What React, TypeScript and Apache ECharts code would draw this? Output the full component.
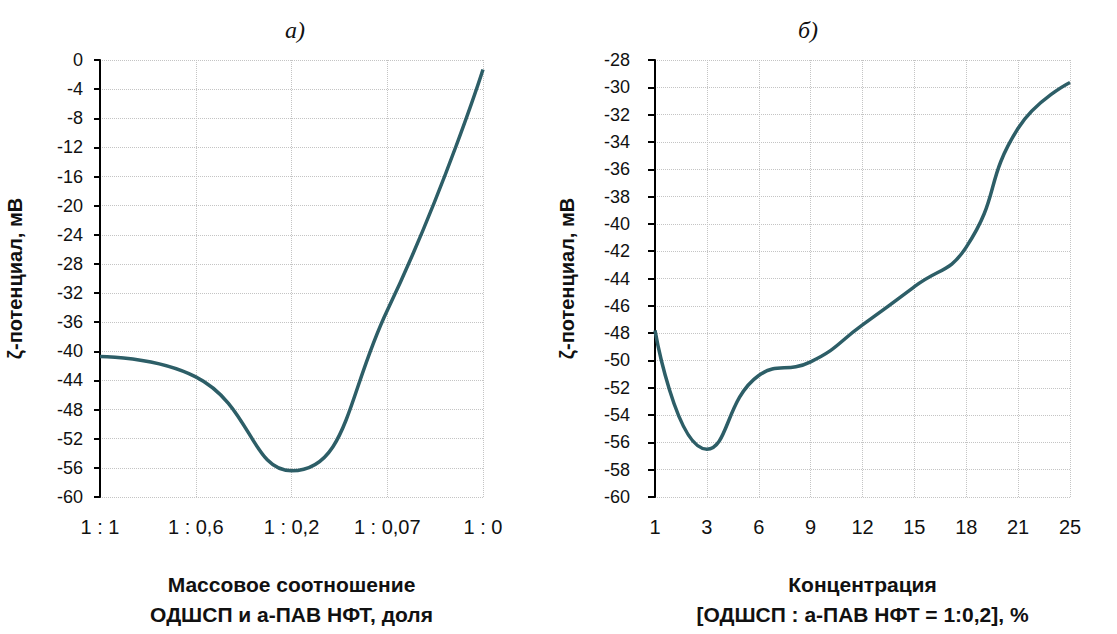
import React, { useEffect, useRef } from "react";
import * as echarts from "echarts";

const ratioCategories = ["1 : 1", "1 : 0,6", "1 : 0,2", "1 : 0,07", "1 : 0"];
const ratioZeta = [-40.7, -43.5, -56.4, -34.4, -1.3];

const concCategories = ["1", "3", "6", "9", "12", "15", "18", "21", "25"];
const concZeta = [-47.8, -56.5, -51.1, -50.1, -47.4, -44.6, -41.7, -33.0, -29.65];

const yNameLabel = "ζ-потенциал, мВ";
const titleA = "а)";
const titleB = "б)";
const xNameA = "Массовое соотношение\nОДШСП и а-ПАВ НФТ, доля";
const xNameB = "Концентрация\n[ОДШСП : а-ПАВ НФТ = 1:0,2], %";

const FONT = "'Liberation Sans', Arial, sans-serif";
const SERIF = "'Liberation Serif', 'Times New Roman', serif";
const LINE_COLOR = "#2d5e67";
const GRID_LINE = { show: true, lineStyle: { color: "#c4c4c4", type: "dotted" as const, width: 1 } };

export default function App() {
  const ref = useRef<HTMLDivElement>(null);
  useEffect(() => {
    if (!ref.current) return;
    const chart = echarts.init(ref.current, undefined, { renderer: "svg" });
    const xAxisCommon = {
      type: "category" as const,
      boundaryGap: false,
      axisLine: { show: false },
      axisTick: { show: false },
      axisLabel: { color: "#111", fontSize: 20, fontFamily: FONT, margin: 20 },
      splitLine: GRID_LINE,
      nameLocation: "middle" as const,
      nameGap: 72,
      nameTextStyle: { color: "#111", fontSize: 21, fontWeight: "bold" as const, fontFamily: FONT, lineHeight: 30 },
    };
    const yAxisCommon = {
      type: "value" as const,
      axisLine: { show: true, lineStyle: { color: "#000", width: 2 } },
      splitLine: GRID_LINE,
      nameLocation: "middle" as const,
      name: yNameLabel,
      nameTextStyle: { color: "#111", fontSize: 20, fontWeight: "bold" as const, fontFamily: FONT },
    };
    const titleStyle = { fontFamily: SERIF, fontStyle: "italic" as const, fontWeight: "normal" as const, fontSize: 24, color: "#111" };
    chart.setOption({
      animation: false,
      backgroundColor: "#fff",
      title: [
        { text: titleA, left: 290, top: 13, textAlign: "center", textStyle: titleStyle },
        { text: titleB, left: 803, top: 13, textAlign: "center", textStyle: titleStyle },
      ],
      grid: [
        { left: 100, right: 634, top: 60, bottom: 124 },
        { left: 655, right: 47, top: 60, bottom: 123 },
      ],
      xAxis: [
        { ...xAxisCommon, gridIndex: 0, data: ratioCategories, name: xNameA },
        { ...xAxisCommon, gridIndex: 1, data: concCategories, name: xNameB },
      ],
      yAxis: [
        {
          ...yAxisCommon, gridIndex: 0, min: -60, max: 0, interval: 4, nameGap: 75,
          axisTick: { show: true, length: 6, lineStyle: { color: "#000", width: 2 } },
          axisLabel: { color: "#111", fontSize: 18, fontFamily: FONT, margin: 17 },
        },
        {
          ...yAxisCommon, gridIndex: 1, min: -60, max: -28, interval: 2, nameGap: 78,
          axisTick: { show: true, length: 7, lineStyle: { color: "#000", width: 2 } },
          axisLabel: { color: "#111", fontSize: 18, fontFamily: FONT, margin: 25 },
        },
      ],
      series: [
        {
          type: "line", xAxisIndex: 0, yAxisIndex: 0, data: ratioZeta, smooth: 0.5, showSymbol: false,
          lineStyle: { color: LINE_COLOR, width: 3.5 },
        },
        {
          type: "line", xAxisIndex: 1, yAxisIndex: 1, data: concZeta, smooth: 0.5, showSymbol: false,
          lineStyle: { color: LINE_COLOR, width: 3.5 },
        },
      ],
    });
    return () => chart.dispose();
  }, []);
  return <div ref={ref} style={{ width: 1117, height: 634, position: "absolute", left: 0, top: 0 }} />;
}
